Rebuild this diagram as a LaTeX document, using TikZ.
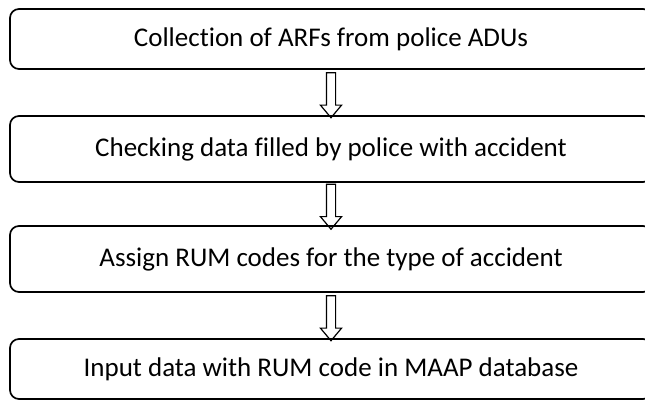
\documentclass[tikz,border=0pt]{standalone}
\usepackage{fontspec}
\setmainfont{Carlito}[Ligatures=NoCommon]
\usetikzlibrary{shapes.arrows}

\begin{document}
\begin{tikzpicture}[x=1pt,y=1pt,node distance=110pt,
                    font=\fontsize{27}{32}\selectfont]
  \tikzstyle{stage}=[draw=black,line width=1.7pt,rounded corners=9pt,
                     minimum width=642pt,minimum height=66pt,inner sep=0pt]
  \tikzstyle{down}=[draw=black,line width=1.2pt,single arrow,
                    single arrow head extend=6pt,single arrow tip angle=80,
                    minimum height=45pt,inner sep=4pt,shape border rotate=270]

  \useasboundingbox (0,0) rectangle (645,401);
  \clip (0,0) rectangle (645,401);

  \node[stage,minimum height=60pt] (A) at (331,362) {Collection of ARFs from police ADUs};
  \node[stage]                     (B) [below of=A] {Checking data filled by police with accident};
  \node[stage]                     (C) [below of=B] {Assign RUM codes for the type of accident};
  \node[stage,minimum height=60pt] (D) [below of=C] {Input data with RUM code in MAAP database};

  \path (A.south) -- node[down] {} (B.north)
        (B.south) -- node[down] {} (C.north)
        (C.south) -- node[down] {} (D.north);
\end{tikzpicture}
\end{document}
